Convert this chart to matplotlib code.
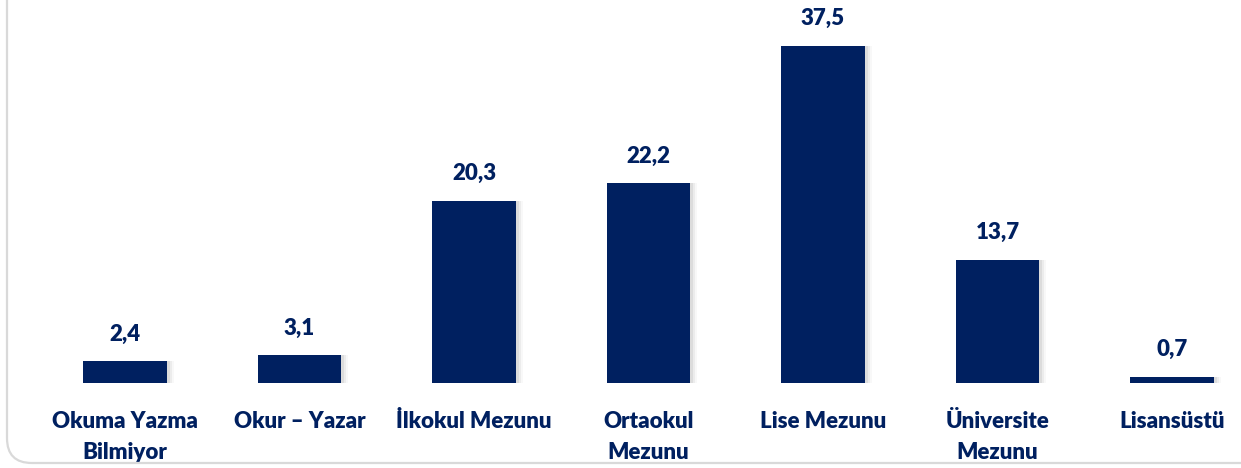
import matplotlib
matplotlib.use("Agg")
from matplotlib import pyplot as plt
from matplotlib.patches import FancyBboxPatch

categories = ["Okuma Yazma\nBilmiyor", "Okur – Yazar", "İlkokul Mezunu", "Ortaokul\nMezunu",
              "Lise Mezunu", "Üniversite\nMezunu", "Lisansüstü"]
values = [2.4, 3.1, 20.3, 22.2, 37.5, 13.7, 0.7]
value_labels = ["2,4", "3,1", "20,3", "22,2", "37,5", "13,7", "0,7"]

navy = "#002060"
plt.rcParams['font.family'] = ['Lato', 'DejaVu Sans']

fig = plt.figure(figsize=(12.41, 4.68), dpi=100)
fig.patch.set_facecolor("white")

# light grey rounded frame, open to the top and right
frame = FancyBboxPatch((7 / 1241, 5 / 468), 1.2, 1.2, boxstyle="round,pad=0,rounding_size=0.02",
                       transform=fig.transFigure, fill=False, ec="#D9D9D9", lw=1.6,
                       mutation_aspect=1241 / 468)
fig.patches.append(frame)

ax = fig.add_axes([0, 85 / 468, 1, 383 / 468])
ax.set_facecolor("none")
x = list(range(len(values)))
w = 0.476

# soft shadow
for dx, a in [(0.018, 0.10), (0.030, 0.07), (0.042, 0.04)]:
    ax.bar([i + dx for i in x], values, width=w, color="#555555", alpha=a, zorder=1)
ax.bar(x, values, width=w, color=navy, zorder=2)

for i, v in enumerate(values):
    ax.annotate(value_labels[i], (i, v), xytext=(0, 12), textcoords="offset points",
                ha="center", va="bottom", fontsize=16, fontweight="heavy", color=navy)

ax.set_xlim(-125 / 174.5, (1241 - 125) / 174.5)
ax.set_ylim(0, 383 / 8.99)
ax.set_xticks(x)
ax.set_xticklabels(categories, fontsize=16, fontweight="heavy", color=navy, linespacing=1.6)
ax.tick_params(axis="x", length=0, pad=20)
ax.set_yticks([])
for s in ax.spines.values():
    s.set_visible(False)

fig.savefig("out.png", dpi=100)
